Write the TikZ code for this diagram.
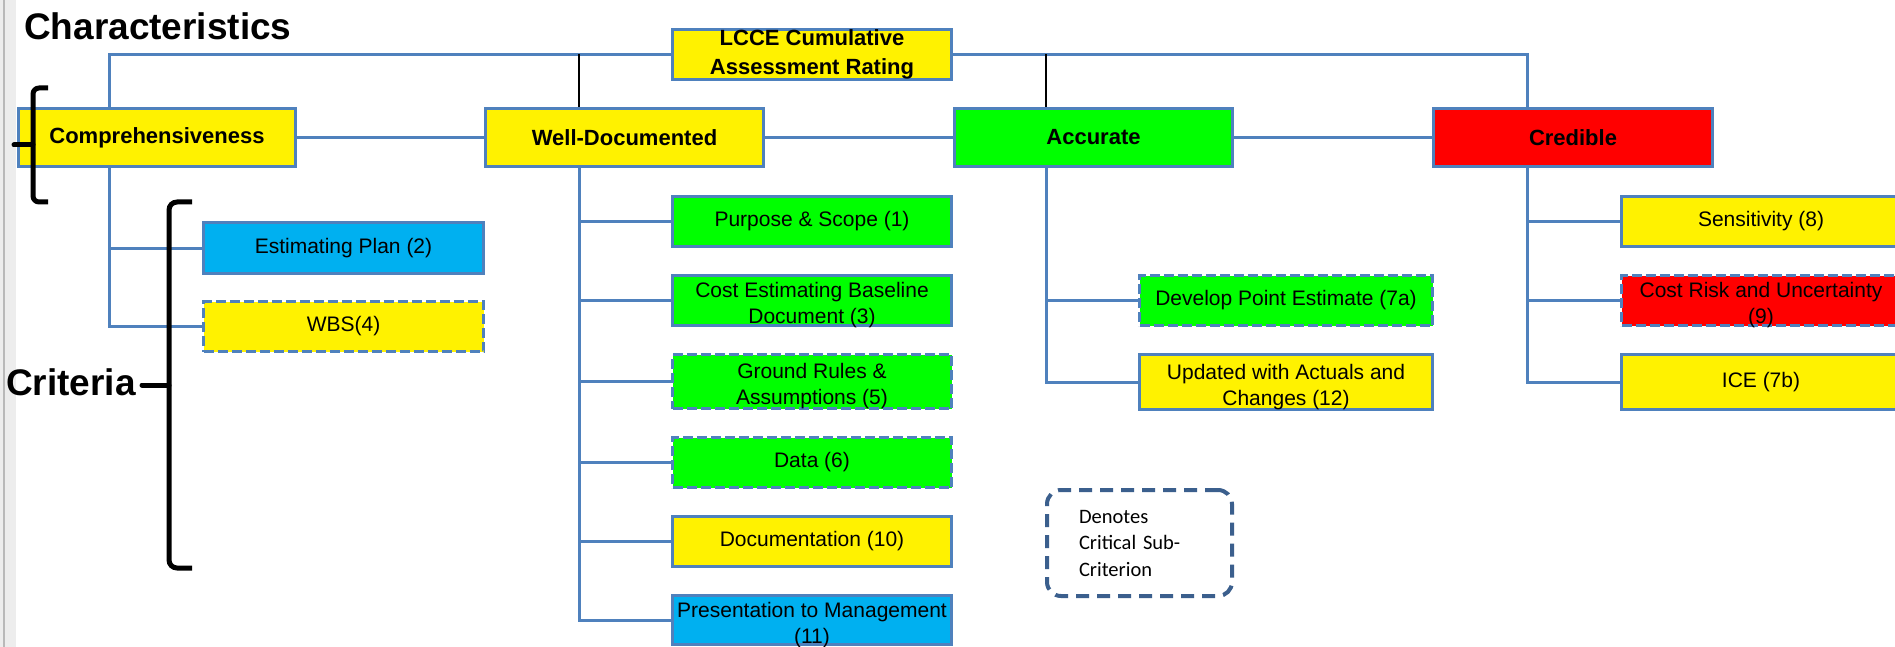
\documentclass[tikz,border=0pt]{standalone}
\usepackage{fontspec}
\setmainfont{Liberation Sans}
\newfontfamily\legendfont{Carlito}
\usetikzlibrary{calc}
\definecolor{bordblue}{HTML}{4F81BD}
\definecolor{cyanbox}{HTML}{00B0F0}
\definecolor{legblue}{HTML}{3B5F8D}
\newcommand{\twoline}[2]{\rule{0pt}{20pt}#1\\\raisebox{0pt}[\height][0pt]{#2}}
\begin{document}
\begin{tikzpicture}[x=1pt,y=-1pt,
  box/.style={draw=bordblue, line width=3pt, inner sep=0pt, align=center,
    font=\fontsize{21}{26}\selectfont, minimum width=279pt, minimum height=50pt},
  mainbox/.style={box, font=\bfseries\fontsize{22}{29}\selectfont, minimum height=58pt},
  critbox/.style={dash pattern=on 10pt off 4pt},
  conn/.style={draw=bordblue, line width=3pt},
  blk/.style={draw=black, line width=1.6pt},
  brace/.style={draw=black, line width=5pt, line join=round},
  bigtitle/.style={anchor=base west, inner sep=0pt, font=\bfseries\fontsize{37}{44}\selectfont},
]
\useasboundingbox (0,0) rectangle (1895,647);
\fill[white] (0,0) rectangle (1895,647);
\fill[gray!14] (0,0) rectangle (16,647);
\draw[gray!55, line width=2.5pt] (4,0) -- (4,647);

% titles
\node[bigtitle] (charT) at (24,40) {Characteristics};
\node[bigtitle] (critT) at (6,395) {Criteria};

% top box
\node[mainbox, fill=yellow, minimum height=50pt] (lcce) at (812,54.5) {LCCE Cumulative\\Assessment Rating};

% main characteristics
\node[mainbox, fill=yellow, minimum width=277pt] (comp) at (157,137.5) {Comprehensiveness};
\node[mainbox, fill=yellow, minimum width=278pt] (wd) at (624.5,137.5) {Well-Documented};
\node[mainbox, fill=green, minimum width=278pt] (acc) at (1093.5,137.5) {Accurate};
\node[mainbox, fill=red] (cred) at (1573,137.5) {Credible};

% comprehensiveness criteria
\node[box, fill=cyanbox, minimum width=280pt, minimum height=51pt] (ep) at (343.5,248) {Estimating Plan (2)};
\node[box, critbox, fill=yellow, minimum width=280pt] (wbs) at (343.5,326.5) {WBS(4)};

% well-documented criteria
\node[box, fill=green] (ps) at (812,221.5) {Purpose \& Scope (1)};
\node[box, fill=green] (ceb) at (812,300.5) {\twoline{Cost Estimating Baseline}{Document (3)}};
\node[box, critbox, fill=green, minimum height=54pt] (gr) at (812,381.5) {\twoline{Ground Rules \&}{Assumptions (5)}};
\node[box, critbox, fill=green] (data) at (812,462.5) {Data (6)};
\node[box, fill=yellow] (doc) at (812,541.5) {Documentation (10)};
\node[box, fill=cyanbox, minimum height=49pt] (pres) at (812,620) {\twoline{Presentation to Management}{(11)}};

% accurate criteria
\node[box, critbox, fill=green, minimum width=293pt] (dpe) at (1286,300.5) {Develop Point Estimate (7a)};
\node[box, fill=yellow, minimum width=293pt, minimum height=55pt] (upd) at (1286,382) {\twoline{Updated with Actuals and}{Changes (12)}};

% credible criteria
\node[box, fill=yellow] (sens) at (1761,221.5) {Sensitivity (8)};
\node[box, critbox, fill=red] (crisk) at (1761,300.5) {\twoline{Cost Risk and Uncertainty}{(9)}};
\node[box, fill=yellow, minimum height=55pt] (ice) at (1761,382) {ICE (7b)};

% legend
\node[draw=legblue, line width=4pt, dash pattern=on 13pt off 8pt, rounded corners=14pt,
  minimum width=185pt, minimum height=106pt, inner xsep=0pt, text width=121pt, align=left,
  font=\legendfont\fontsize{20.5}{26.5}\selectfont] (leg) at (1139.5,543) {Denotes\\Critical Sub-\\Criterion};

% trunk coordinates
\coordinate (tl) at (109,54.5);
\coordinate (tr) at (1527,54.5);
\coordinate (wdx) at (579,54.5);
\coordinate (accx) at (1046,54.5);

% top connectors
\draw[conn] (comp.north -| tl) -- (tl) -- (lcce.west);
\draw[conn] (lcce.east) -- (tr) -- (cred.north -| tr);
\draw[blk] (wdx) -- (wd.north -| wdx);
\draw[blk] (accx) -- (acc.north -| accx);

% horizontal connectors between characteristics
\draw[conn] (comp.east) -- (wd.west);
\draw[conn] (wd.east) -- (acc.west);
\draw[conn] (acc.east) -- (cred.west);

% criteria trunks
\foreach \n in {ep,wbs} \draw[conn] (comp.south -| tl) |- (\n.west);
\foreach \n in {ps,ceb,gr,data,doc,pres} \draw[conn] (wd.south -| wdx) |- (\n.west);
\foreach \n in {dpe,upd} \draw[conn] (acc.south -| accx) |- (\n.west);
\foreach \n in {sens,crisk,ice} \draw[conn] (cred.south -| tr) |- (\n.west);

% braces
\draw[brace, rounded corners=6pt] (48,88) -- (33,88) -- (33,202) -- (48,202);
\draw[brace, line cap=round] (33,145) -- (14,145);
\draw[brace, rounded corners=8pt] (192,202) -- (169,202) -- (169,568) -- (192,568);
\draw[brace, line cap=round] (169,385) -- (142,385);
\end{tikzpicture}
\end{document}
